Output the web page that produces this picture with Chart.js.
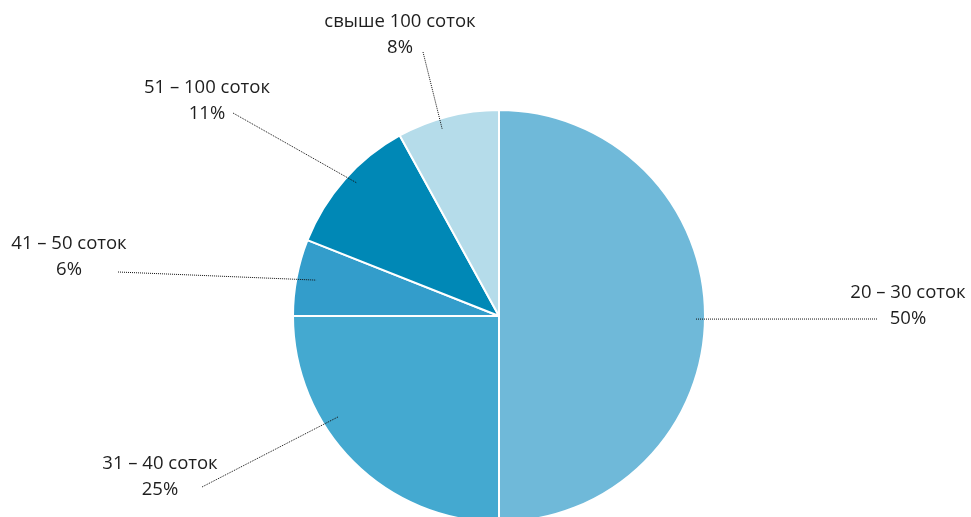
<!DOCTYPE html>
<html lang="ru">
<head>
<meta charset="utf-8">
<script src="https://cdn.jsdelivr.net/npm/chart.js@4.4.1/dist/chart.umd.min.js"></script>
<style>
  html, body { margin: 0; padding: 0; background: #fff; overflow: hidden; }
  #wrap { position: relative; width: 971px; height: 632px; }
</style>
</head>
<body>
<div id="wrap"><canvas id="pieChart"></canvas></div>
<script>
let sizes = ["20 – 30 соток", "31 – 40 соток", "41 – 50 соток", "51 – 100 соток", "свыше 100 соток"];
let shares = [50, 25, 6, 11, 8];
let sliceColors = ["#6fb9d9", "#44a9d0", "#339dcb", "#0088b6", "#b5dcea"];

// caption centre (first line), where its leader starts, and where the leader lands in the slice
// (depth = share of the radius, turn = degrees away from the slice middle)
const captions = [
    { x: 908, y: 293, lineEnd: [877, 319], depth: 0.956, turn: 0.9 },
    { x: 160, y: 464, lineEnd: [202, 487], depth: 0.92, turn: 12.9 },
    { x: 69, y: 244, lineEnd: [118, 272], depth: 0.905, turn: 0.3 },
    { x: 207, y: 88, lineEnd: [233, 113], depth: 0.945, turn: 1.7 },
    { x: 400, y: 22, lineEnd: [423, 52], depth: 0.95, turn: -2.5 }
];

const leaderLabels = {
    id: 'leaderLabels',
    afterDraw(chart) {
        const ctx = chart.ctx;
        const arcs = chart.getDatasetMeta(0).data;
        ctx.save();
        arcs.forEach((arc, i) => {
            const c = captions[i];
            const mid = (arc.startAngle + arc.endAngle) / 2 + c.turn * Math.PI / 180;
            const r = arc.outerRadius * c.depth;
            const px = arc.x + Math.cos(mid) * r;
            const py = arc.y + Math.sin(mid) * r;

            ctx.beginPath();
            ctx.setLineDash([1, 1]);
            ctx.lineWidth = 1;
            ctx.strokeStyle = "#111";
            ctx.moveTo(c.lineEnd[0], c.lineEnd[1]);
            ctx.lineTo(px, py);
            ctx.stroke();
            ctx.setLineDash([]);

            ctx.fillStyle = "#1e1e1e";
            ctx.font = "18.5px 'Open Sans', sans-serif";
            ctx.textAlign = "center";
            ctx.textBaseline = "middle";
            ctx.fillText(sizes[i], c.x, c.y);
            ctx.fillText(shares[i] + "%", c.x, c.y + 26);
        });
        ctx.restore();
    }
};

const ctx = document.getElementById('pieChart').getContext('2d');
let pieChart = new Chart(ctx, {
    type: 'pie',
    data: {
        labels: sizes,
        datasets: [{
            data: shares,
            backgroundColor: sliceColors,
            borderColor: "#ffffff",
            borderWidth: 2
        }]
    },
    options: {
        responsive: true,
        maintainAspectRatio: false,
        animation: false,
        layout: { padding: { left: 292, right: 265, top: 108, bottom: 108 } },
        plugins: {
            legend: { display: false },
            tooltip: { enabled: false }
        }
    },
    plugins: [leaderLabels]
});
</script>
</body>
</html>
